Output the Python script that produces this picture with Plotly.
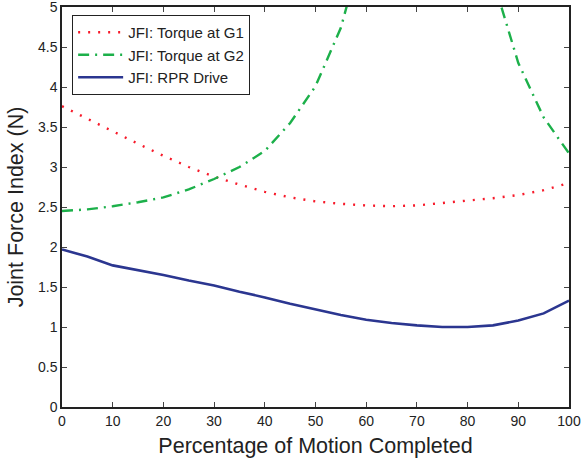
import plotly.graph_objects as go

x = [0, 5, 10, 15, 20, 25, 30, 35, 40, 45, 50, 55, 60, 65, 70, 75, 80, 85, 90, 95, 100]
jfi_g1 = [3.76, 3.60, 3.44, 3.29, 3.14, 3.00, 2.88, 2.78, 2.69, 2.62, 2.57, 2.54, 2.52, 2.51, 2.52, 2.55, 2.58, 2.61, 2.65, 2.71, 2.80]
jfi_g2 = [2.45, 2.47, 2.51, 2.56, 2.62, 2.72, 2.85, 3.00, 3.20, 3.55, 4.01, 4.74, 5.9, 7.0, 7.8, 7.8, 6.8, 5.35, 4.30, 3.62, 3.17]
jfi_rpr = [1.97, 1.88, 1.77, 1.71, 1.65, 1.58, 1.52, 1.44, 1.37, 1.29, 1.22, 1.15, 1.09, 1.05, 1.02, 1.00, 1.00, 1.02, 1.08, 1.17, 1.33]

x_ticks = [0, 10, 20, 30, 40, 50, 60, 70, 80, 90, 100]
y_ticks = [0, 0.5, 1, 1.5, 2, 2.5, 3, 3.5, 4, 4.5, 5]

FONT = "Liberation Sans, Arial, Helvetica"

fig = go.Figure()
fig.add_trace(go.Scatter(x=x, y=jfi_g1, mode="lines", name="JFI: Torque at G1",
                         line=dict(color="#f71a2a", width=2.4, dash="2px,8px")))
fig.add_trace(go.Scatter(x=x, y=jfi_g2, mode="lines", name="JFI: Torque at G2",
                         line=dict(color="#1cb04a", width=2.4, dash="11px,6px,2px,6px")))
fig.add_trace(go.Scatter(x=x, y=jfi_rpr, mode="lines", name="JFI: RPR Drive",
                         line=dict(color="#2b3690", width=2.6)))

axis_common = dict(showgrid=False, zeroline=False, showline=True, linecolor="#222",
                   linewidth=1.5, mirror="ticks", ticks="inside", ticklen=5,
                   tickcolor="#444", tickwidth=1, automargin=False,
                   ticklabeloverflow="allow",
                   tickfont=dict(family=FONT, size=14, color="#222"))

fig.update_layout(
    width=581, height=463,
    margin=dict(l=62, r=12, t=7, b=56),
    paper_bgcolor="white", plot_bgcolor="white",
    font=dict(family=FONT, color="#222"),
    xaxis=dict(range=[0, 100], tickvals=x_ticks, ticktext=[str(v) for v in x_ticks],
               title=dict(text="Percentage of Motion Completed", font=dict(size=21.5), standoff=10),
               **axis_common),
    yaxis=dict(range=[0, 5], tickvals=y_ticks, ticktext=[f"{v:g}" for v in y_ticks],
               title=dict(text="Joint Force Index (N)", font=dict(size=21.5), standoff=8),
               **axis_common),
    legend=dict(x=0.02, y=0.98, xanchor="left", yanchor="top",
                bgcolor="white", bordercolor="#222", borderwidth=1,
                font=dict(size=15, family=FONT, color="#222"),
                itemwidth=45),
    showlegend=True,
)

fig.write_html("out.html", config={"displayModeBar": False},
               post_script="document.body.style.margin='0';document.body.style.overflow='hidden';")
